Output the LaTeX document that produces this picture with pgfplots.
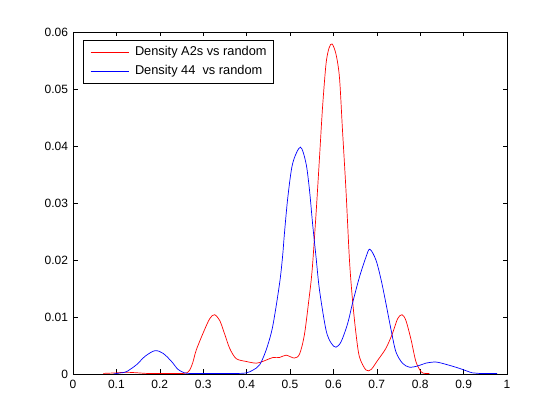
\documentclass[border=0pt]{standalone}
\usepackage{fontspec}
\setmainfont{Liberation Sans}
\usepackage{pgfplots}
\pgfplotsset{compat=1.18}
\begin{document}
\begin{tikzpicture}[x=1pt,y=1pt]
\path[use as bounding box] (0,0) rectangle (560,420);
\begin{axis}[
  at={(73pt,46pt)}, anchor=south west,
  scale only axis, width=434pt, height=342pt,
  xmin=0, xmax=1, ymin=0, ymax=0.06,
  xtick={0,0.1,0.2,0.3,0.4,0.5,0.6,0.7,0.8,0.9,1},
  xticklabels={0,0.1,0.2,0.3,0.4,0.5,0.6,0.7,0.8,0.9,1},
  ytick={0,0.01,0.02,0.03,0.04,0.05,0.06},
  yticklabels={0,0.01,0.02,0.03,0.04,0.05,0.06},
  scaled ticks=false,
  /pgf/number format/assume math mode=true,
  tick align=inside, tick pos=both,
  major tick length=4.5pt,
  axis line style={black, line width=0.6pt},
  every tick/.style={black, line width=0.6pt},
  ticklabel style={font=\fontsize{12}{14}\selectfont},
  xticklabel style={yshift=-3pt},
  yticklabel style={xshift=-1.5pt},
  legend cell align=left,
  legend style={at={(0,1)}, anchor=north west, xshift=10pt, yshift=-8.5pt,
    line width=0.6pt, inner xsep=7pt, inner ysep=6pt,
    font=\fontsize{12.8}{15}\selectfont,
    nodes={inner sep=0pt, text height=9pt, text depth=3pt},
    row sep=6.4pt, column sep=6pt},
]
\addplot[draw=red, line width=0.7pt, smooth, tension=0.5,
  legend image code/.code={\draw[draw=red, line width=0.7pt] (0pt,0pt) -- (38pt,0pt);}] coordinates {
(0.07,0.0001) (0.10,0.0002) (0.123,0.0003) (0.15,0.0002) (0.17,0.0001)
(0.20,0.0001) (0.23,0.0001) (0.254,0.0001) (0.262,0.0002) (0.269,0.0007) (0.276,0.0020) (0.284,0.0042) (0.301,0.0074)
(0.315,0.0097) (0.326,0.0104) (0.338,0.0094) (0.349,0.0071) (0.361,0.0045)
(0.376,0.0027) (0.399,0.0022) (0.422,0.0019) (0.437,0.0022) (0.461,0.0029)
(0.476,0.0029) (0.491,0.0033) (0.510,0.0028) (0.522,0.0035) (0.533,0.0068)
(0.543,0.0127) (0.551,0.0182) (0.560,0.0281) (0.568,0.0380) (0.575,0.0468)
(0.583,0.0544) (0.590,0.0572) (0.597,0.0579) (0.606,0.0561) (0.614,0.0520)
(0.621,0.0427) (0.629,0.0322) (0.637,0.0200) (0.644,0.0130) (0.652,0.0071)
(0.660,0.0030) (0.675,0.0007) (0.687,0.0008) (0.702,0.0024) (0.721,0.0045)
(0.736,0.0071) (0.748,0.0097) (0.758,0.0104) (0.767,0.0094) (0.779,0.0060)
(0.790,0.0022) (0.802,0.0004) (0.811,0.0001) (0.821,0.0001)
};
\addlegendentry{Density A2s vs random}
\addplot[draw=blue, line width=0.7pt, smooth, tension=0.5,
  legend image code/.code={\draw[draw=blue, line width=0.7pt] (0pt,0pt) -- (38pt,0pt);}] coordinates {
(0.093,0.0000) (0.11,0.0002) (0.123,0.0004) (0.146,0.0016) (0.166,0.0031)
(0.189,0.0041) (0.208,0.0036) (0.227,0.0022) (0.242,0.0008) (0.257,0.0002)
(0.268,0.0001) (0.28,0.0001) (0.33,0.0001) (0.38,0.0001) (0.40,0.0002) (0.415,0.0007) (0.43,0.0016) (0.445,0.0042)
(0.46,0.0083) (0.476,0.0159) (0.483,0.0207) (0.487,0.0245) (0.495,0.0310)
(0.506,0.0369) (0.524,0.0398) (0.537,0.0369) (0.545,0.0322) (0.552,0.0264)
(0.560,0.0205) (0.568,0.0147) (0.583,0.0077) (0.595,0.0054) (0.606,0.0047)
(0.618,0.0057) (0.633,0.0089) (0.644,0.0124) (0.660,0.0170) (0.675,0.0205)
(0.684,0.0219) (0.698,0.0200) (0.710,0.0165) (0.721,0.0124) (0.733,0.0077)
(0.744,0.0039) (0.759,0.0019) (0.775,0.0012) (0.794,0.0014) (0.813,0.0019)
(0.836,0.0021) (0.859,0.0017) (0.89,0.0010) (0.92,0.0002) (0.936,0.0001)
(0.977,0.0001)
};
\addlegendentry{Density 44\ \ vs random}
\end{axis}
\end{tikzpicture}
\end{document}
